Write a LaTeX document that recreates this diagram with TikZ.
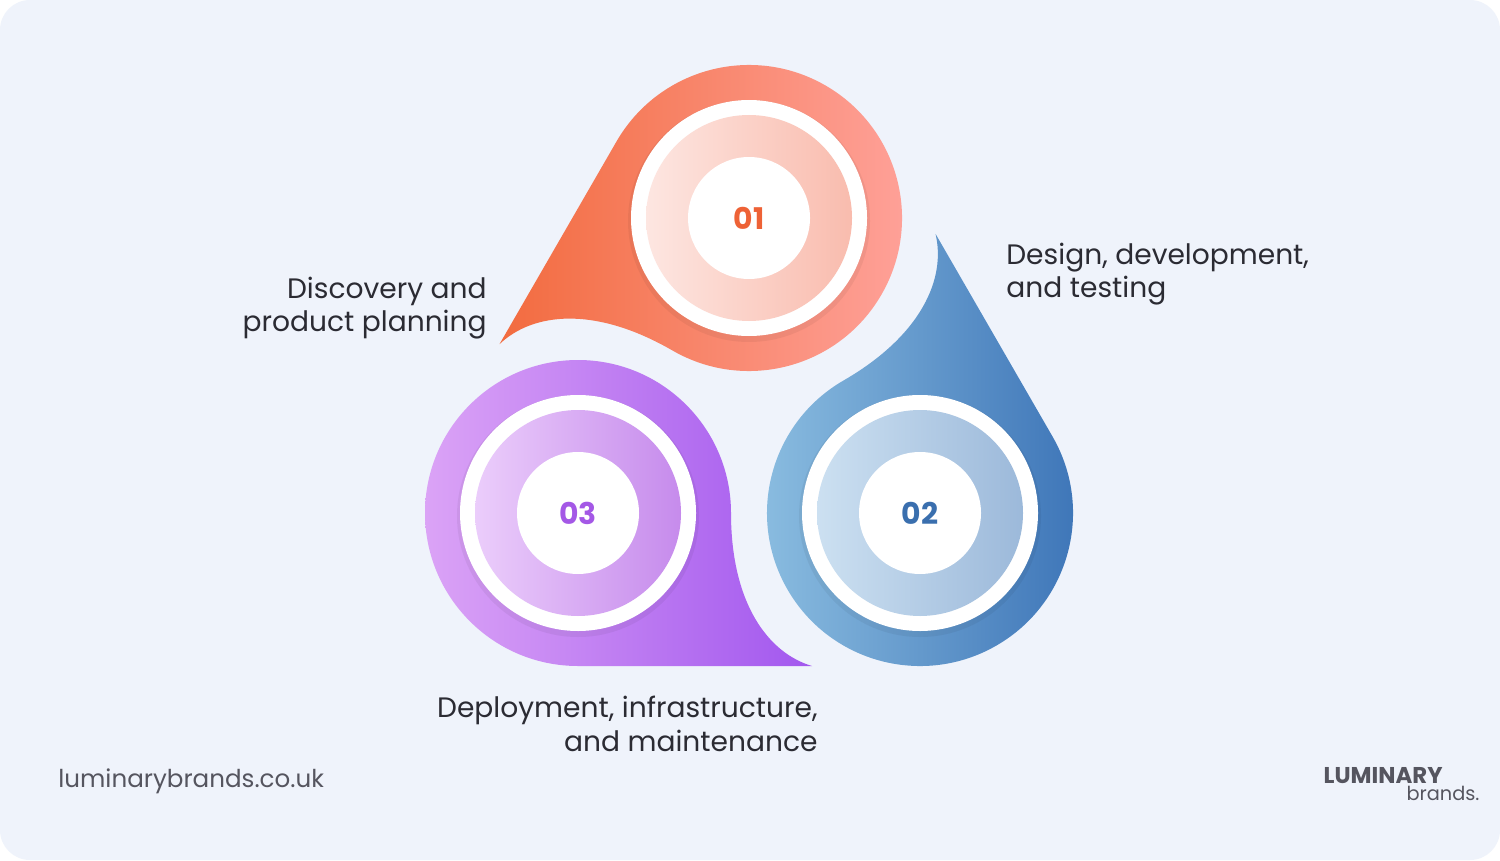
\documentclass[tikz,border=0pt]{standalone}
\usepackage{fontspec}
\setmainfont{Poppins}
\usetikzlibrary{positioning}
\definecolor{bgpanel}{HTML}{EFF3FB}
\definecolor{txtdark}{HTML}{2B2B33}
\definecolor{txtgray}{HTML}{55555F}
\definecolor{oneA}{HTML}{FFA39C}\definecolor{oneB}{HTML}{F26B3F}
\definecolor{oneC}{HTML}{FDE6E1}\definecolor{oneD}{HTML}{F9BCAE}\definecolor{oneN}{HTML}{EE6236}
\definecolor{twoA}{HTML}{8EC0E2}\definecolor{twoB}{HTML}{3A72B6}
\definecolor{twoC}{HTML}{CCE0F1}\definecolor{twoD}{HTML}{9CB9DA}\definecolor{twoN}{HTML}{3A6FAE}
\definecolor{thrA}{HTML}{DBA3F6}\definecolor{thrB}{HTML}{A257EE}
\definecolor{thrC}{HTML}{EBCDFB}\definecolor{thrD}{HTML}{C68BEC}\definecolor{thrN}{HTML}{A458E6}
\tikzset{
  label text/.style={font=\fontsize{16}{20}\selectfont, text=txtdark, inner sep=0pt},
  step num/.style={font=\fontsize{17}{20}\selectfont\bfseries, inner sep=0pt},
}
% one drop: #1 centre, #2 rotation, #3/#4 outer colours, #5/#6 inner colours, #7 number colour, #8 number
\newcommand{\stepdrop}[8]{%
  \begin{scope}[shift={#1}]
    \begin{scope}[rotate=#2]
      \shade[left color=#3, right color=#4] (0,-153) arc[start angle=-90, end angle=-360, radius=153]
        .. controls (153,-90) and (190,-140) .. (234,-153) -- cycle;
    \end{scope}
    \fill[black, opacity=0.05] (0,-3) circle[radius=121];
    \fill[white] (0,0) circle[radius=118];
    \shade[left color=#5, right color=#6] (0,0) circle[radius=103];
    \fill[white] (0,0) circle[radius=61];
    \node[step num, text=#7] at (0,0) {#8};
  \end{scope}}
\begin{document}
\begin{tikzpicture}[x=0.02cm, y=0.02cm]
  \useasboundingbox (0,0) rectangle (1500,860);
  \fill[white] (0,0) rectangle (1500,860);
  \fill[bgpanel, rounded corners=0.6cm] (0,0) rectangle (1500,860);
  % drops
  \stepdrop{(749,642)}{-120}{oneB}{oneA}{oneC}{oneD}{oneN}{01}
  \stepdrop{(920,347)}{120}{twoA}{twoB}{twoC}{twoD}{twoN}{02}
  \stepdrop{(578,347)}{0}{thrA}{thrB}{thrC}{thrD}{thrN}{03}
  % labels
  \node[label text, anchor=east, align=right] (lab1) at (487,552) {Discovery and\\[-1pt]product planning};
  \node[label text, anchor=west, align=left] (lab2) at (1006,586) {Design, development,\\[-1pt]and testing};
  \node[label text, anchor=east, align=right] (lab3) at (818,136) {Deployment, infrastructure,\\[-1pt]and maintenance};
  % footer
  \node[font=\fontsize{14}{16}\selectfont, text=txtgray, anchor=west, inner sep=0pt] (site) at (58,79) {luminarybrands.co.uk};
  \node[font=\fontsize{13}{14}\selectfont\bfseries, text=txtgray, anchor=east, inner sep=0pt] (logo) at (1443,84) {LUMINARY};
  \node[font=\fontsize{11}{12}\selectfont, text=txtgray, anchor=north east, inner sep=0pt, below=1pt of logo.south east] (brand) {brands.};
\end{tikzpicture}
\end{document}
